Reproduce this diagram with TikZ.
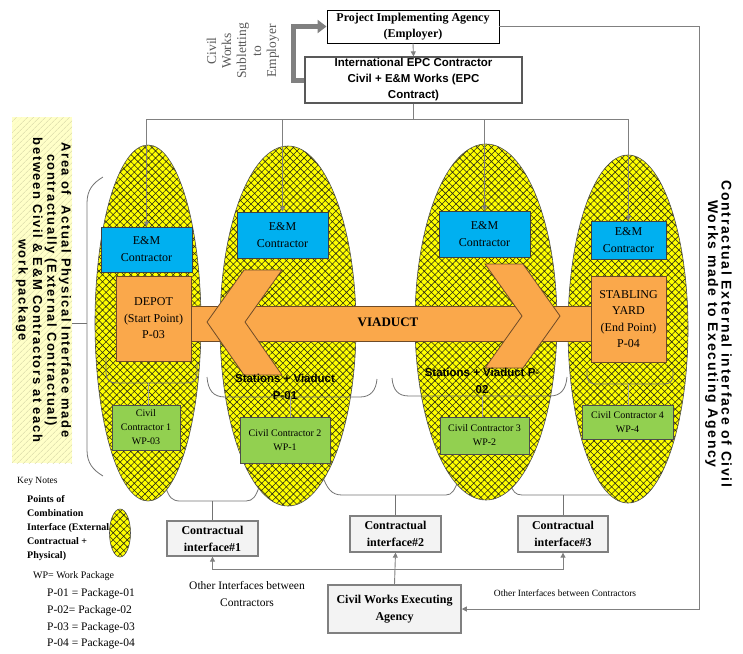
\documentclass[tikz,border=0pt]{standalone}
\usepackage{fontspec}
\setmainfont{Liberation Serif}
\newfontfamily\arialfont{Liberation Sans}
\newfontfamily\arialwide{Liberation Sans}[LetterSpace=12]
\usetikzlibrary{arrows.meta,patterns.meta}

\definecolor{emblue}{RGB}{0,176,240}
\definecolor{civgreen}{RGB}{146,208,80}
\definecolor{orng}{RGB}{250,168,75}
\definecolor{orngline}{RGB}{110,75,40}
\definecolor{meshcol}{RGB}{45,45,20}
\definecolor{ylw}{RGB}{255,255,0}
\definecolor{paleylw}{RGB}{255,255,200}
\definecolor{hatchylw}{RGB}{212,212,165}
\definecolor{conngrey}{RGB}{128,128,128}
\definecolor{boxgrey}{RGB}{243,243,243}
\definecolor{textgrey}{RGB}{90,90,90}

\newcommand{\fsz}[2]{\fontsize{#1}{#2}\selectfont}

\tikzset{
  basebox/.style={inner sep=0pt, align=center},
  embox/.style={basebox, draw=black!75, fill=emblue, line width=0.8pt, font=\fsz{12}{17}},
  orangebox/.style={basebox, draw=orngline, fill=orng, line width=0.8pt, font=\fsz{12}{16.5}},
  civbox/.style={basebox, draw=black!70, fill=civgreen, line width=0.8pt, font=\fsz{10}{14}},
  ifbox/.style={basebox, draw=conngrey, fill=boxgrey, line width=1.3pt, font=\bfseries\fsz{12}{17}},
  conn/.style={draw=conngrey, line width=0.9pt},
  arr/.style={conn, -{Triangle[length=5pt,width=5pt]}},
  bracket/.style={draw=black!55, line width=0.8pt},
  meshfill/.style={fill=ylw,
    postaction={pattern color=meshcol, pattern={Hatch[angle=45,distance=5pt,line width=0.6pt]}},
    postaction={draw=black!70, line width=0.6pt}},
  orngshape/.style={fill=orng, draw=orngline, line width=0.8pt, line join=miter},
}

\begin{document}
\begin{tikzpicture}[x=1pt,y=-1pt]
\useasboundingbox (0,0) rectangle (743,653);

% ---------- shaded explanation panel on the left ----------
\node[basebox, fill=paleylw, minimum width=60pt, minimum height=346pt,
  postaction={pattern color=hatchylw, pattern={Lines[angle=45,distance=4pt,line width=0.5pt]}}]
  (areabox) at (42,290) {};
\node[basebox, rotate=-90, font=\arialwide\bfseries\fsz{13}{14.3}] (areatext) at (43.5,290)
  {Area of~ Actual Physical Interface made\\contractually (External Contractual)\\between Civil \& E\&M Contractors at each\\work package};

% ---------- grey brackets behind the package ellipses ----------
\coordinate (tk) at (87,323);
\draw[bracket] (103,177) .. controls (93,183) and (87,190) .. (87,203) -- (87,450)
  .. controls (87,463) and (93,470) .. (103,476);
\draw[bracket] (tk) -- (tk -| areabox.east);

\coordinate (b1) at (212.5,501);
\coordinate (b2) at (395.5,495);
\coordinate (b3) at (563,495);
\draw[bracket] (166,488) .. controls (169,497) and (172,501) .. (180,501) -- (246,501)
  .. controls (253,501) and (256,496) .. (259,487);
\draw[bracket] (322,475) .. controls (327,488) and (331,495) .. (342,495) -- (446,495)
  .. controls (452,495) and (455,490) .. (459,478);
\draw[bracket] (510,484) .. controls (513,491) and (515,495) .. (522,495) -- (620,495);

% ---------- package ellipses ----------
\path[meshfill] (148,323) ellipse [x radius=53pt, y radius=178pt];
\path[meshfill] (288,326) ellipse [x radius=68pt, y radius=180pt];
\path[meshfill] (486,322) ellipse [x radius=71pt, y radius=178pt];
\path[meshfill] (628,329) ellipse [x radius=60pt, y radius=174pt];

% ---------- top agencies ----------
\node[basebox, draw=black, fill=white, line width=0.9pt, minimum width=172pt, minimum height=33pt,
  font=\bfseries\fsz{12}{16}] (pia) at (413,26.5) {Project Implementing Agency\\(Employer)};
\node[basebox, draw=black!65, fill=white, line width=1.2pt, minimum width=217pt, minimum height=46pt,
  font=\arialfont\bfseries\fsz{11.5}{16}] (epc) at (413.5,80)
  {International EPC Contractor\\Civil + E\&M Works (EPC\\Contract)};

\draw[arr] (pia.south) -- (epc.north);
\draw[draw=conngrey, line width=5pt, -{Triangle[length=9pt,width=13pt]}]
  (epc.west) -- ++(-11,0) |- (pia.west);
\node[basebox, rotate=90, text=textgrey, font=\fsz{13.5}{15}] (sublet) at (243,51)
  {Civil\\Works\\Subletting\\to\\Employer};

% ---------- E&M contractors ----------
\node[embox, minimum width=91pt, minimum height=45pt] (em1) at (146.5,249.5) {E\&M\\Contractor};
\node[embox, minimum width=91pt, minimum height=46pt] (em2) at (282.5,235) {E\&M\\Contractor};
\node[embox, minimum width=91pt, minimum height=46pt] (em3) at (484.5,234) {E\&M\\Contractor};
\node[embox, minimum width=75pt, minimum height=38pt] (em4) at (628.5,240) {E\&M\\Contractor};

\coordinate (bus) at (413.5,119);
\draw[conn] (epc.south) -- (bus);
\draw[arr] (bus) -| (em1.north);
\draw[arr] (bus) -| (em2.north);
\draw[arr] (bus) -| (em3.north);
\draw[arr] (bus) -| (em4.north);

% ---------- inner brackets round depot, stations and yard ----------
\coordinate (u1) at (148,383);
\coordinate (u2) at (290,397);
\coordinate (u3) at (482,396);
\coordinate (u4) at (628,384);
\draw[bracket] (106,357) -- (106,373) .. controls (106,380) and (110,383) .. (117,383) -- (186,383)
  .. controls (193,383) and (197,380) .. (197,373) -- (197,362);
\draw[bracket] (587,368) -- (587,375) .. controls (587,381) and (590,384) .. (596,384) -- (664,384)
  .. controls (670,384) and (673,381) .. (673,375) -- (673,368);
\draw[bracket] (207,377) .. controls (208,390) and (213,397) .. (225,397) -- (360,397)
  .. controls (371,397) and (376,390) .. (377,379);
\draw[bracket] (392,378) .. controls (393,390) and (398,396) .. (409,396) -- (550,396)
  .. controls (561,396) and (566,389) .. (567,377);

% ---------- viaduct band with its two arrowheads ----------
\draw[orngshape] (191,306) rectangle (591,341);
\draw[orngshape] (207,322) -- (244,270) -- (282,270) -- (245,322) -- (282,375) -- (244,375) -- cycle;
\draw[orngshape] (560,316) -- (523,264) -- (485,264) -- (522,316) -- (485,368) -- (523,368) -- cycle;
\node[basebox, font=\bfseries\fsz{13}{15}] (viaduct) at (388,322) {VIADUCT};

\node[orangebox, minimum width=75pt, minimum height=85pt] (depot) at (153.5,318.5)
  {DEPOT\\(Start Point)\\P-03};
\node[orangebox, minimum width=75pt, minimum height=86pt] (yard) at (628.5,319)
  {STABLING\\YARD\\(End Point)\\P-04};

\node[basebox, font=\arialfont\bfseries\fsz{11.5}{17}] (st1) at (285,386.5) {Stations + Viaduct\\P-01};
\node[basebox, font=\arialfont\bfseries\fsz{11.5}{17}] (st2) at (482,380.5) {Stations + Viaduct P-\\02};

% ---------- civil contractors ----------
\node[civbox, minimum width=68pt, minimum height=45pt] (cc1) at (146,427.5) {Civil\\Contractor 1\\WP-03};
\node[civbox, minimum width=90pt, minimum height=46pt] (cc2) at (285,440) {Civil Contractor 2\\WP-1};
\node[civbox, minimum width=89pt, minimum height=37pt] (cc3) at (484.5,435.5) {Civil Contractor 3\\WP-2};
\node[civbox, minimum width=91pt, minimum height=34pt] (cc4) at (627.5,422) {Civil Contractor 4\\WP-4};

\draw[bracket, draw=black!35] (u1) -- (u1 |- cc1.north);
\draw[bracket, draw=black!35] (u2) -- (u2 |- cc2.north);
\draw[bracket, draw=black!35] (u3) -- (u3 |- cc3.north);
\draw[bracket, draw=black!35] (u4) -- (u4 |- cc4.north);

% ---------- contractual interfaces ----------
\node[ifbox, minimum width=91pt, minimum height=35pt] (ci1) at (212.5,538.5) {Contractual\\interface\#1};
\node[ifbox, minimum width=91pt, minimum height=36pt] (ci2) at (395.5,534) {Contractual\\interface\#2};
\node[ifbox, minimum width=90pt, minimum height=36pt] (ci3) at (563,534) {Contractual\\interface\#3};

\draw[bracket] (b1) -- (ci1.north);
\draw[bracket] (b2) -- (ci2.north);
\draw[bracket] (b3) -- (ci3.north);

\node[ifbox, line width=1.5pt, minimum width=133pt, minimum height=48pt] (cwea) at (394.5,609)
  {Civil Works Executing\\Agency};

\coordinate (split) at (394.5,569);
\draw[arr] (cwea.north) -- (ci2.south);
\draw[arr] (split) -| (ci1.south);
\draw[arr] (split) -| (ci3.south);

\coordinate (rc) at (699,609);
\draw[arr] (pia.east) -| (rc) -- (cwea.east);

\node[basebox, font=\fsz{11.5}{17}] (oil) at (247,593.5) {Other Interfaces between\\Contractors};
\node[basebox, font=\fsz{9.5}{11}] (oir) at (565,593) {Other Interfaces between Contractors};

\node[basebox, rotate=-90, font=\arialwide\bfseries\fsz{14}{13.5}] (exttext) at (718.5,334)
  {Contractual External interface of Civil\\Works made to Executing Agency};

% ---------- key ----------
\node[basebox, anchor=west, font=\fsz{9.5}{11}] (keynotes) at (17,481) {Key Notes};
\node[basebox, anchor=west, align=left, font=\bfseries\fsz{10}{14}] (poc) at (27,528)
  {Points of\\Combination\\Interface (External\\Contractual +\\Physical)};
\path[meshfill] (120,533) ellipse [x radius=10.5pt, y radius=24pt];
\node[basebox, anchor=west, font=\fsz{10}{12}] (wp) at (33,576) {WP= Work Package};
\node[basebox, anchor=west, align=left, font=\fsz{11.5}{16.6}] (pkg) at (47,619)
  {P-01 = Package-01\\P-02= Package-02\\P-03 = Package-03\\P-04 = Package-04};

\end{tikzpicture}
\end{document}
